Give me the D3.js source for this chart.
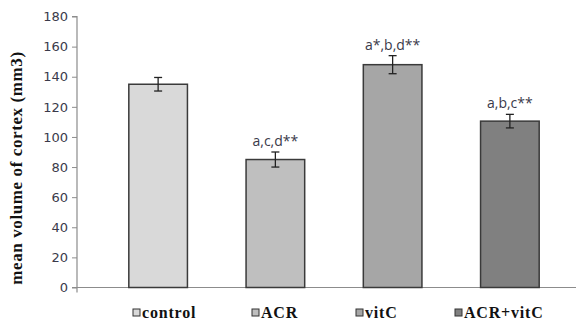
<!DOCTYPE html>
<html>
<head>
<meta charset="utf-8">
<script src="https://cdn.jsdelivr.net/npm/d3@7"></script>
<style>
  body { margin: 0; background: #fff; }
</style>
</head>
<body>
<script>
// groups, means, error (+/-), significance labels
const groups = ['control', 'ACR', 'vitC', 'ACR+vitC'];
const means = [135, 85, 148, 110.5];
const errors = [4.5, 5, 6, 4.5];
const sigLabels = ['', 'a,c,d**', 'a*,b,d**', 'a,b,c**'];
const fills = ['#d9d9d9', '#bfbfbf', '#a6a6a6', '#808080'];
const yTicks = [0, 20, 40, 60, 80, 100, 120, 140, 160, 180];

const width = 576, height = 325;
const svg = d3.select('body').append('svg')
  .attr('width', width)
  .attr('height', height);

// scales
const x = d3.scaleBand()
  .domain(groups)
  .range([99.5, 568.5])
  .paddingInner(0.5)
  .paddingOuter(0.25);
const y = d3.scaleLinear()
  .domain([0, 180])
  .range([287.5, 16.5]);

// baseline across the plot
svg.append('line')
  .attr('x1', 72).attr('x2', 576)
  .attr('y1', y(0)).attr('y2', y(0))
  .attr('stroke', '#8c8c8c').attr('stroke-width', 1.2);

// y axis
const yAxis = d3.axisLeft(y).tickValues(yTicks).tickSize(5).tickPadding(4);
const gy = svg.append('g')
  .attr('transform', 'translate(77,0)')
  .call(yAxis);
gy.select('.domain').attr('stroke', '#8c8c8c').attr('stroke-width', 1.2)
  .attr('d', `M-5,${y(180)}H0V${y(0) + 5}`);
gy.selectAll('.tick line').attr('stroke', '#8c8c8c');
gy.selectAll('.tick text')
  .attr('fill', '#3a3a4a')
  .style('font-family', 'DejaVu Sans, sans-serif')
  .style('font-size', '13px');

// y axis title
svg.append('text')
  .attr('transform', `translate(22,${(y(0) + y(180)) / 2 + 16}) rotate(-90)`)
  .attr('text-anchor', 'middle')
  .style('font-family', 'Liberation Serif, Times New Roman, serif')
  .style('font-weight', 'bold')
  .style('font-size', '17px')
  .style('letter-spacing', '0.6px')
  .attr('fill', '#111')
  .text('mean volume of cortex (mm3)');

// bars
svg.selectAll('rect.bar')
  .data(groups)
  .enter().append('rect')
  .attr('class', 'bar')
  .attr('x', d => x(d))
  .attr('width', x.bandwidth())
  .attr('y', (d, i) => y(means[i]))
  .attr('height', (d, i) => y(0) - y(means[i]))
  .attr('fill', (d, i) => fills[i])
  .attr('stroke', '#3a3a3a')
  .attr('stroke-width', 1.5);

// error bars
const eb = svg.selectAll('g.err')
  .data(groups)
  .enter().append('g')
  .attr('class', 'err')
  .attr('stroke', '#222')
  .attr('stroke-width', 1.3);
eb.append('line')
  .attr('x1', d => x(d) + x.bandwidth() / 2)
  .attr('x2', d => x(d) + x.bandwidth() / 2)
  .attr('y1', (d, i) => y(means[i] + errors[i]))
  .attr('y2', (d, i) => y(means[i] - errors[i]));
eb.append('line')
  .attr('x1', d => x(d) + x.bandwidth() / 2 - 4)
  .attr('x2', d => x(d) + x.bandwidth() / 2 + 4)
  .attr('y1', (d, i) => y(means[i] + errors[i]))
  .attr('y2', (d, i) => y(means[i] + errors[i]));
eb.append('line')
  .attr('x1', d => x(d) + x.bandwidth() / 2 - 4)
  .attr('x2', d => x(d) + x.bandwidth() / 2 + 4)
  .attr('y1', (d, i) => y(means[i] - errors[i]))
  .attr('y2', (d, i) => y(means[i] - errors[i]));

// significance labels
svg.selectAll('text.sig')
  .data(groups)
  .enter().append('text')
  .attr('class', 'sig')
  .attr('x', d => x(d) + x.bandwidth() / 2)
  .attr('y', (d, i) => y(means[i] + errors[i]) - 6)
  .attr('text-anchor', 'middle')
  .attr('fill', '#3a3a4a')
  .style('font-family', 'Open Sans, DejaVu Sans, sans-serif')
  .style('font-size', '14px')
  .text((d, i) => sigLabels[i]);

// legend
const legendX = [133, 252, 356, 455];
const lg = svg.selectAll('g.legend')
  .data(groups)
  .enter().append('g')
  .attr('class', 'legend')
  .attr('transform', (d, i) => `translate(${legendX[i]},313)`);
lg.append('rect')
  .attr('x', 0).attr('y', -4)
  .attr('width', 7).attr('height', 7)
  .attr('fill', (d, i) => fills[i])
  .attr('stroke', '#333')
  .attr('stroke-width', 1);
lg.append('text')
  .attr('x', 9).attr('y', 5)
  .style('font-family', 'Liberation Serif, Times New Roman, serif')
  .style('font-weight', 'bold')
  .style('font-size', '16px')
  .style('letter-spacing', '0.8px')
  .attr('fill', '#111')
  .text(d => d);
</script>
</body>
</html>
